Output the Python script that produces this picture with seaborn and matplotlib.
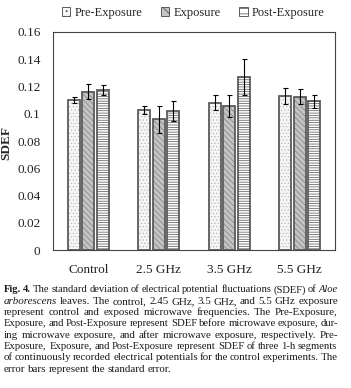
import numpy as np
import pandas as pd
import matplotlib
matplotlib.use("Agg")
import matplotlib.pyplot as plt
from matplotlib.patches import Patch
import seaborn as sns

# values
groups = ["Control", "2.5 GHz", "3.5 GHz", "5.5 GHz"]
phases = ["Pre-Exposure", "Exposure", "Post-Exposure"]
pre_mean = [0.110, 0.103, 0.108, 0.113]
exp_mean = [0.116, 0.096, 0.1055, 0.1125]
post_mean = [0.1175, 0.102, 0.127, 0.109]
pre_se = [0.002, 0.003, 0.0055, 0.006]
exp_se = [0.0055, 0.010, 0.008, 0.0055]
post_se = [0.0035, 0.0075, 0.013, 0.005]

caption = [
    "!Fig. !4. The standard deviation of electrical potential fluctuations (SDEF) of _Aloe",
    "_arborescens leaves. The control, 2.45 GHz, 3.5 GHz, and 5.5 GHz exposure",
    "represent control and exposed microwave frequencies. The Pre-Exposure,",
    "Exposure, and Post-Exposure represent SDEF before microwave exposure, dur-",
    "ing microwave exposure, and after microwave exposure, respectively. Pre-",
    "Exposure, Exposure, and Post-Exposure represent SDEF of three 1-h segments",
    "of continuously recorded electrical potentials for the control experiments. The",
    "error bars represent the standard error.",
]

df = pd.DataFrame({
    "group": groups * 3,
    "phase": np.repeat(phases, len(groups)),
    "sdef": pre_mean + exp_mean + post_mean,
    "se": pre_se + exp_se + post_se,
})

sns.set_style("white")
plt.rcParams["font.family"] = ["Liberation Serif", "DejaVu Serif"]
plt.rcParams["hatch.linewidth"] = 0.5

W, H = 3.51, 3.88
fig = plt.figure(figsize=(W, H), dpi=100)
ax = fig.add_axes([53 / 351, 1 - 250 / 388, (335 - 53) / 351, (250 - 32) / 388])

sns.barplot(data=df, x="group", y="sdef", hue="phase", order=groups,
            hue_order=phases, errorbar=None, width=0.62, gap=0.2,
            ax=ax, legend=False)

styles = {
    "Pre-Exposure": dict(facecolor="#f6f6f6", hatch=".....", hc="#b8b8b8"),
    "Exposure": dict(facecolor="#c4c4c4", hatch="\\\\\\\\\\\\", hc="#808080"),
    "Post-Exposure": dict(facecolor="#ffffff", hatch="-------", hc="#505050"),
}

for cont, ph in zip(ax.containers, phases):
    st = styles[ph]
    sub = df[df.phase == ph].set_index("group").loc[groups]
    xs = []
    for bar in cont:
        bar.set_facecolor(st["facecolor"])
        bar.set_hatch(st["hatch"])
        bar.set_edgecolor(st["hc"])
        bar.set_linewidth(0)
        xs.append(bar.get_x() + bar.get_width() / 2)
        # outline drawn separately so hatch colour stays light
        ax.add_patch(plt.Rectangle((bar.get_x(), 0), bar.get_width(), bar.get_height(),
                                   fill=False, edgecolor="#5a5a5a", linewidth=1.3, zorder=3))
    ax.errorbar(xs, sub["sdef"], yerr=sub["se"], fmt="none", ecolor="black",
                elinewidth=0.8, capsize=1.8, capthick=0.8, zorder=4)

ax.set_ylim(0, 0.16)
ax.set_yticks(np.arange(0, 0.161, 0.02))
ax.set_yticklabels(["0", "0.02", "0.04", "0.06", "0.08", "0.1", "0.12", "0.14", "0.16"])
ax.set_xlim(-0.5, 3.5)
ax.tick_params(axis="both", labelsize=9.5, length=0, labelcolor="#222222")
ax.tick_params(axis="y", pad=9)
ax.tick_params(axis="x", pad=10)
ax.set_xlabel("")
ax.set_ylabel("SDEF", fontsize=9.5, fontweight="bold")
ax.yaxis.set_label_coords(-0.145, 0.49)
for s in ax.spines.values():
    s.set_color("#444444")
    s.set_linewidth(0.8)

handles = [Patch(facecolor=styles[p]["facecolor"], edgecolor="#444444",
                 hatch=styles[p]["hatch"][:3], linewidth=0.6, label=p) for p in phases]
fig.legend(handles=handles, loc="center", bbox_to_anchor=(0.55, 1 - 13 / 388),
           ncol=3, frameon=False, fontsize=9, handlelength=0.7, handleheight=0.7,
           handletextpad=0.3, columnspacing=1.5)

# caption, justified word by word
fig.canvas.draw()
renderer = fig.canvas.get_renderer()
x0, x1 = 4, 338
fs = 7.9
for i, line in enumerate(caption):
    y = 1 - (290 + i * 11.3) / 388
    texts = []
    for w in line.split(" "):
        kw = dict(fontsize=fs, va="center", ha="left", color="#1a1a1a")
        if w.startswith("!"):
            w = w[1:]
            kw["fontweight"] = "bold"
        if w.startswith("_"):
            w = w[1:]
            kw["style"] = "italic"
        texts.append(fig.text(0, y, w, **kw))
    widths = [t.get_window_extent(renderer).width for t in texts]
    last = i == len(caption) - 1
    gap = 2.3 if last else (x1 - x0 - sum(widths)) / (len(texts) - 1)
    if gap < 2.0:
        # shrink this line a little so words keep a visible space
        k = (x1 - x0 - 2.0 * (len(texts) - 1)) / sum(widths)
        for t in texts:
            t.set_fontsize(fs * k)
        widths = [wd * k for wd in widths]
        gap = 2.0
    x = x0
    for t, wd in zip(texts, widths):
        t.set_x(x / (W * 100))
        x += wd + gap

fig.savefig("out.png", dpi=100)
